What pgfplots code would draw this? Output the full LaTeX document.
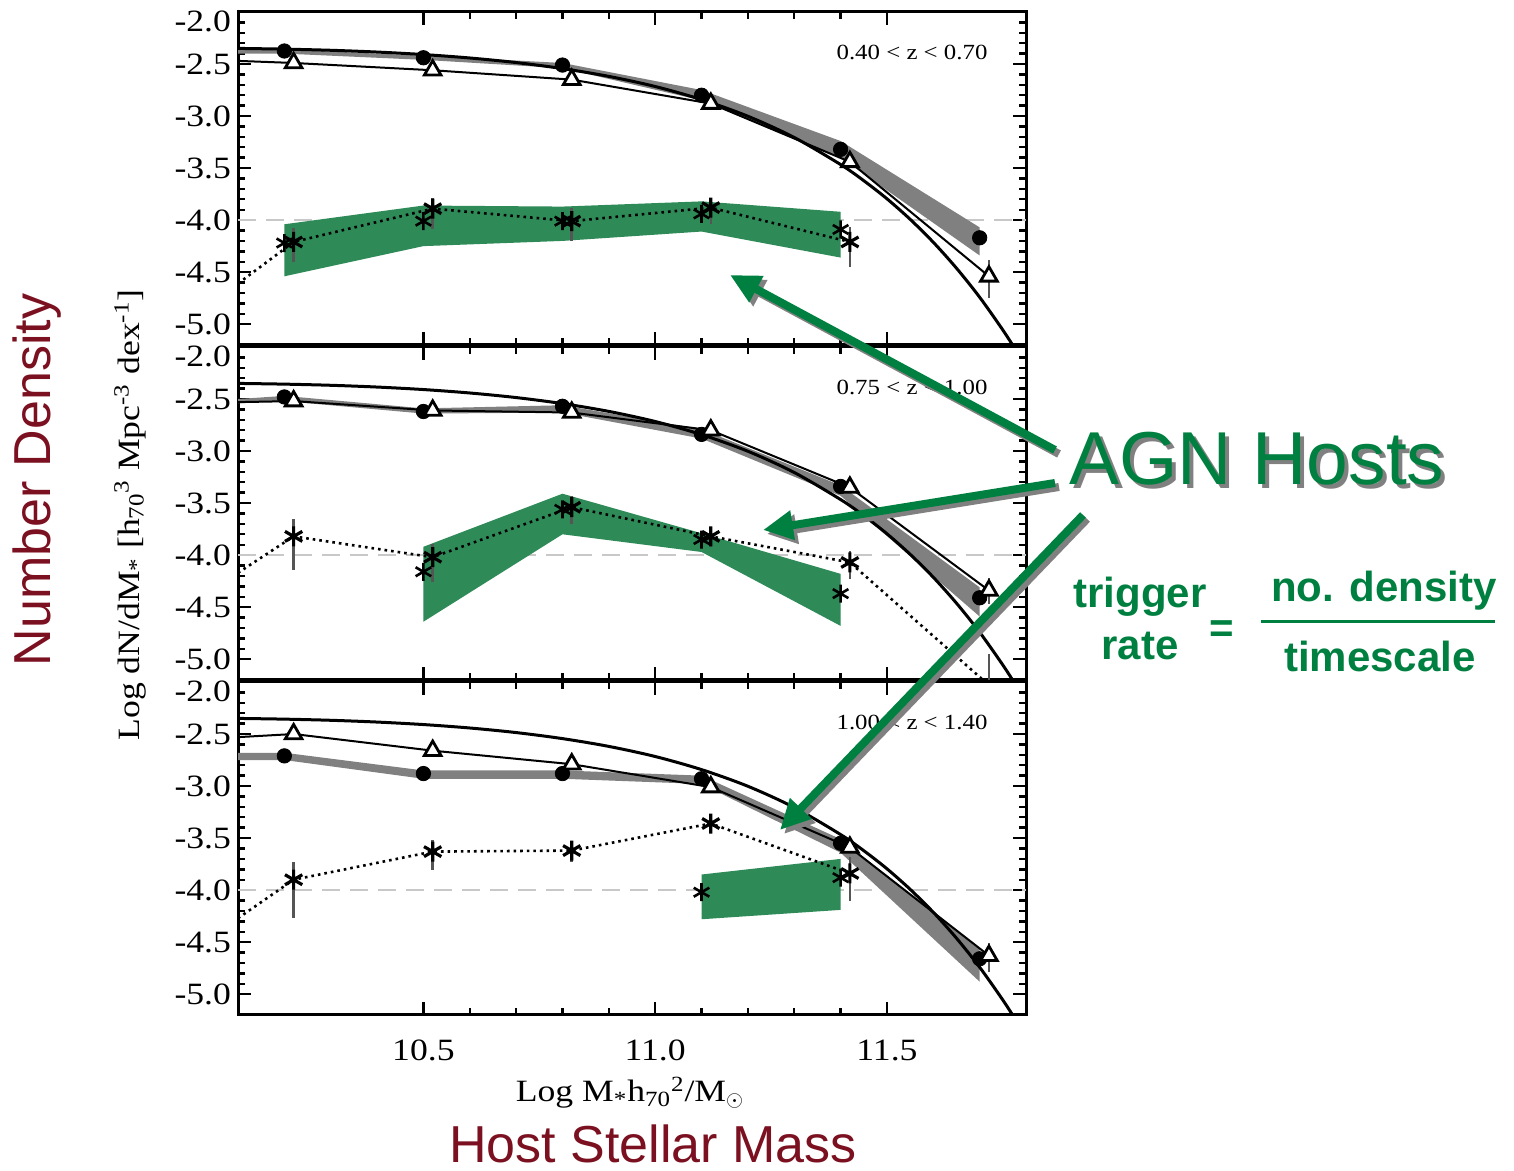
\documentclass[border=0pt]{standalone}
\usepackage{pgfplots}
\usepackage{pgfplotstable}
\pgfplotsset{compat=1.18}
\usepackage{fontspec}
\setmainfont{Liberation Serif}[FakeStretch=1.15]
\newfontfamily\arialfont{Liberation Sans}
\usetikzlibrary{arrows.meta}
\definecolor{bandgreen}{RGB}{46,139,87}
\definecolor{agngreen}{RGB}{0,128,64}
\definecolor{maroon}{RGB}{122,16,32}
\definecolor{bandgray}{RGB}{128,128,128}
\definecolor{dashgray}{RGB}{200,200,200}
\definecolor{errgray}{RGB}{85,85,85}

\pgfplotstableread{
x y
10.10 -2.350
10.20 -2.357
10.30 -2.368
10.40 -2.385
10.50 -2.409
10.60 -2.442
10.70 -2.486
10.80 -2.544
10.90 -2.619
11.00 -2.716
11.10 -2.842
11.20 -3.002
11.30 -3.206
11.40 -3.466
11.45 -3.621
11.50 -3.795
11.55 -3.992
11.60 -4.213
11.65 -4.462
11.70 -4.741
11.75 -5.056
11.78 -5.263
}\fitcurve

\tikzset{zlab/.style={anchor=east, font=\fontsize{10.8}{11}\selectfont}}
\pgfplotsset{
  panel/.style={
    scale only axis, width=394pt, height=166.5pt,
    xmin=10.1, xmax=11.8, ymin=-5.2, ymax=-2.0,
    xtick={10.5,11,11.5}, minor x tick num=4,
    ytick={-5,-4.5,-4,-3.5,-3,-2.5,-2},
    yticklabels={-5.0,-4.5,-4.0,-3.5,-3.0,-2.5,\raisebox{-9.7pt}[0pt][0pt]{-2.0}},
    minor y tick num=4,
    tick align=inside, major tick length=6.5pt, minor tick length=3.5pt,
    tick style={black, line width=1.2pt},
    axis line style={line width=1.5pt},
    ticklabel style={font=\fontsize{15.5}{16}\selectfont},
    anchor=south west,
  },
  asterr/.style={only marks, mark=asterisk, mark size=5pt, mark options={line width=1.6pt},
    error bars/.cd, y dir=both, y explicit,
    error bar style={line width=1.3pt, errgray}, error mark=none},
  astsmall/.style={only marks, mark=asterisk, mark size=4.5pt, mark options={line width=1.3pt}},
  circ/.style={only marks, mark=*, mark size=3.6pt, black},
  tri/.style={only marks, mark=triangle*, mark size=4.8pt, mark options={fill=white, draw=black, line width=1.4pt},
    error bars/.cd, y dir=both, y explicit,
    error bar style={line width=1.3pt, errgray}, error mark=none},
  dashline/.style={dashgray, line width=1pt, dash pattern=on 9pt off 5pt},
}

\begin{document}
\begin{tikzpicture}
\path[use as bounding box] (0,0) rectangle (757pt,585.5pt);

% ---------- Panel 1 ----------
\begin{axis}[panel, at={(119pt,413pt)}, xticklabels={}]
\addplot[dashline] coordinates {(10.1,-4) (11.8,-4)};
\addplot[fill=bandgreen, draw=none] coordinates {(10.2,-4.04) (10.5,-3.86) (10.8,-3.87) (11.1,-3.82) (11.4,-3.92) (11.4,-4.36) (11.1,-4.11) (10.8,-4.20) (10.5,-4.25) (10.2,-4.54)} -- cycle;
\addplot[fill=bandgray, draw=none] coordinates {(10.1,-2.36) (10.2,-2.36) (10.5,-2.42) (10.8,-2.49) (11.1,-2.75) (11.4,-3.24) (11.7,-4.07) (11.7,-4.34) (11.4,-3.40) (11.1,-2.85) (10.8,-2.54) (10.5,-2.46) (10.2,-2.40) (10.1,-2.40)} -- cycle;
\addplot[black, line width=1.5pt, smooth] table {\fitcurve};
\addplot[black, line width=1pt] coordinates {(10.1,-2.47) (10.22,-2.49) (10.52,-2.56) (10.82,-2.65) (11.12,-2.88) (11.42,-3.44) (11.72,-4.54)};
\addplot[black, dotted, line width=1.3pt] coordinates {(10.1,-4.61) (10.22,-4.21) (10.52,-3.89) (10.82,-4.01) (11.12,-3.88) (11.42,-4.21)};
\addplot[astsmall] coordinates {(10.2,-4.22) (10.5,-4.01) (10.8,-4.01) (11.1,-3.94) (11.4,-4.09)};
\addplot[asterr] coordinates {
 (10.22,-4.21) += (0,0.13) -= (0,0.19)
 (10.52,-3.89) += (0,0.10) -= (0,0.20)
 (10.82,-4.01) += (0,0.13) -= (0,0.19)
 (11.12,-3.88) += (0,0.08) -= (0,0.16)
 (11.42,-4.21) += (0,0.14) -= (0,0.24)};
\addplot[circ] coordinates {(10.2,-2.375) (10.5,-2.44) (10.8,-2.51) (11.1,-2.80) (11.4,-3.32) (11.7,-4.17)};
\addplot[tri] coordinates {
 (10.22,-2.49) += (0,0) -= (0,0)
 (10.52,-2.56) += (0,0) -= (0,0)
 (10.82,-2.65) += (0,0) -= (0,0)
 (11.12,-2.88) += (0,0) -= (0,0)
 (11.42,-3.44) += (0,0) -= (0,0)
 (11.72,-4.54) += (0,0.16) -= (0,0.21)};
\node[zlab] at (axis cs:11.732,-2.39) {0.40 < z < 0.70};
\end{axis}

% ---------- Panel 2 ----------
\begin{axis}[panel, at={(119pt,245.5pt)}, xticklabels={}]
\addplot[dashline] coordinates {(10.1,-4) (11.8,-4)};
\addplot[fill=bandgreen, draw=none] coordinates {(10.5,-3.92) (10.8,-3.41) (11.1,-3.79) (11.4,-4.18) (11.4,-4.68) (11.1,-3.97) (10.8,-3.80) (10.5,-4.64)} -- cycle;
\addplot[fill=bandgray, draw=none] coordinates {(10.1,-2.50) (10.2,-2.47) (10.5,-2.59) (10.8,-2.56) (11.1,-2.79) (11.4,-3.33) (11.7,-4.31) (11.7,-4.59) (11.4,-3.43) (11.1,-2.88) (10.8,-2.63) (10.5,-2.64) (10.2,-2.52) (10.1,-2.54)} -- cycle;
\addplot[black, line width=1.5pt, smooth] table {\fitcurve};
\addplot[black, line width=1pt] coordinates {(10.1,-2.53) (10.22,-2.52) (10.52,-2.61) (10.82,-2.63) (11.12,-2.80) (11.42,-3.35) (11.72,-4.34)};
\addplot[black, dotted, line width=1.3pt] coordinates {(10.1,-4.17) (10.22,-3.82) (10.52,-4.02) (10.82,-3.54) (11.12,-3.82) (11.42,-4.07) (11.72,-5.25)};
\addplot[errgray, line width=1.3pt] coordinates {(11.72,-4.95) (11.72,-5.2)};
\addplot[astsmall] coordinates {(10.5,-4.16) (10.8,-3.56) (11.1,-3.85) (11.4,-4.37)};
\addplot[asterr] coordinates {
 (10.22,-3.82) += (0,0.17) -= (0,0.32)
 (10.52,-4.02) += (0,0.13) -= (0,0.24)
 (10.82,-3.54) += (0,0.11) -= (0,0.16)
 (11.12,-3.82) += (0,0.09) -= (0,0.10)
 (11.42,-4.07) += (0,0.11) -= (0,0.16)};
\addplot[circ] coordinates {(10.2,-2.48) (10.5,-2.62) (10.8,-2.57) (11.1,-2.84) (11.4,-3.34) (11.7,-4.41)};
\addplot[tri] coordinates {
 (10.22,-2.52) += (0,0) -= (0,0)
 (10.52,-2.61) += (0,0) -= (0,0)
 (10.82,-2.63) += (0,0) -= (0,0)
 (11.12,-2.80) += (0,0) -= (0,0)
 (11.42,-3.35) += (0,0) -= (0,0)
 (11.72,-4.34) += (0,0.12) -= (0,0.13)};
\node[zlab] at (axis cs:11.732,-2.39) {0.75 < z < 1.00};
\end{axis}

% ---------- Panel 3 ----------
\begin{axis}[panel, at={(119pt,78pt)}, xticklabels={10.5,11.0,11.5},
  xticklabel style={yshift=-9pt}]
\addplot[dashline] coordinates {(10.1,-4) (11.8,-4)};
\addplot[fill=bandgreen, draw=none] coordinates {(11.1,-3.85) (11.4,-3.70) (11.4,-4.19) (11.1,-4.28)} -- cycle;
\addplot[fill=bandgray, draw=none] coordinates {(10.1,-2.68) (10.2,-2.68) (10.5,-2.85) (10.8,-2.85) (11.1,-2.90) (11.4,-3.51) (11.7,-4.57) (11.7,-4.88) (11.4,-3.64) (11.1,-2.98) (10.8,-2.93) (10.5,-2.93) (10.2,-2.75) (10.1,-2.75)} -- cycle;
\addplot[black, line width=1.5pt, smooth] table {\fitcurve};
\addplot[black, line width=1pt] coordinates {(10.1,-2.53) (10.22,-2.50) (10.52,-2.66) (10.82,-2.79) (11.12,-3.01) (11.42,-3.59) (11.72,-4.63)};
\addplot[black, dotted, line width=1.3pt] coordinates {(10.1,-4.27) (10.22,-3.90) (10.52,-3.63) (10.82,-3.62) (11.12,-3.36) (11.42,-3.84)};
\addplot[astsmall] coordinates {(11.1,-4.02) (11.4,-3.88)};
\addplot[asterr] coordinates {
 (10.22,-3.90) += (0,0.17) -= (0,0.37)
 (10.52,-3.63) += (0,0.11) -= (0,0.18)
 (10.82,-3.62) += (0,0.06) -= (0,0.11)
 (11.12,-3.36) += (0,0.06) -= (0,0.09)
 (11.42,-3.84) += (0,0.16) -= (0,0.26)};
\addplot[circ] coordinates {(10.2,-2.71) (10.5,-2.88) (10.8,-2.88) (11.1,-2.93) (11.4,-3.55) (11.7,-4.66)};
\addplot[tri] coordinates {
 (10.22,-2.50) += (0,0) -= (0,0)
 (10.52,-2.66) += (0,0) -= (0,0)
 (10.82,-2.79) += (0,0) -= (0,0)
 (11.12,-3.01) += (0,0) -= (0,0)
 (11.42,-3.59) += (0,0) -= (0,0)
 (11.72,-4.63) += (0,0.12) -= (0,0.16)};
\node[zlab] at (axis cs:11.732,-2.39) {1.00 < z < 1.40};
\end{axis}

% ---------- Labels ----------
\node[rotate=90, font=\fontsize{15.5}{16}\selectfont] at (65pt,328pt)
  {Log dN/dM\textsubscript{*} [h\textsubscript{70}\textsuperscript{3} Mpc\textsuperscript{-3} dex\textsuperscript{-1}]};
\node[anchor=base, font=\fontsize{15.5}{16}\selectfont] at (315pt,34.5pt)
  {Log M\textsubscript{*}h\textsubscript{70}\textsuperscript{2}/M$_\odot$};
\node[rotate=90, text=maroon, font=\arialfont\fontsize{26}{28}\selectfont] at (18.5pt,345.5pt) {Number Density};
\node[anchor=base, inner sep=0pt, text=maroon, font=\arialfont\fontsize{26}{28}\selectfont] at (326.5pt,4pt) {Host Stellar Mass};

% ---------- Arrows ----------
\begin{scope}[line width=4pt, -{Triangle[length=15pt, width=14pt]}]
  \begin{scope}[shift={(2pt,-2pt)}, bandgray]
    \draw (527.5pt,360.5pt) -- (365pt,448pt);
    \draw (527.5pt,344pt) -- (381.5pt,320.5pt);
    \draw (541.5pt,328pt) -- (390pt,170.5pt);
  \end{scope}
  \begin{scope}[agngreen]
    \draw (527.5pt,360.5pt) -- (365pt,448pt);
    \draw (527.5pt,344pt) -- (381.5pt,320.5pt);
    \draw (541.5pt,328pt) -- (390pt,170.5pt);
  \end{scope}
\end{scope}

\node[anchor=base, text=bandgray, font=\arialfont\fontsize{37.5}{40}\selectfont] at (630.5pt,341pt) {AGN Hosts};
\node[anchor=base, text=agngreen, font=\arialfont\fontsize{37.5}{40}\selectfont] at (628.5pt,343pt) {AGN Hosts};

\node[anchor=base, text=agngreen, font=\arialfont\bfseries\fontsize{21}{22}\selectfont] at (570pt,281.5pt) {trigger};
\node[anchor=base, text=agngreen, font=\arialfont\bfseries\fontsize{21}{22}\selectfont] at (570pt,255.5pt) {rate};
\node[text=agngreen, font=\arialfont\bfseries\fontsize{21}{22}\selectfont] at (611pt,269.5pt) {=};
\node[anchor=base, text=agngreen, font=\arialfont\bfseries\fontsize{21}{22}\selectfont] at (692pt,284.5pt) {no. density};
\node[anchor=base, text=agngreen, font=\arialfont\bfseries\fontsize{21}{22}\selectfont] at (690pt,249.5pt) {timescale};
\draw[agngreen, line width=1.5pt] (630.5pt,274.5pt) -- (747.5pt,274.5pt);
\end{tikzpicture}
\end{document}
